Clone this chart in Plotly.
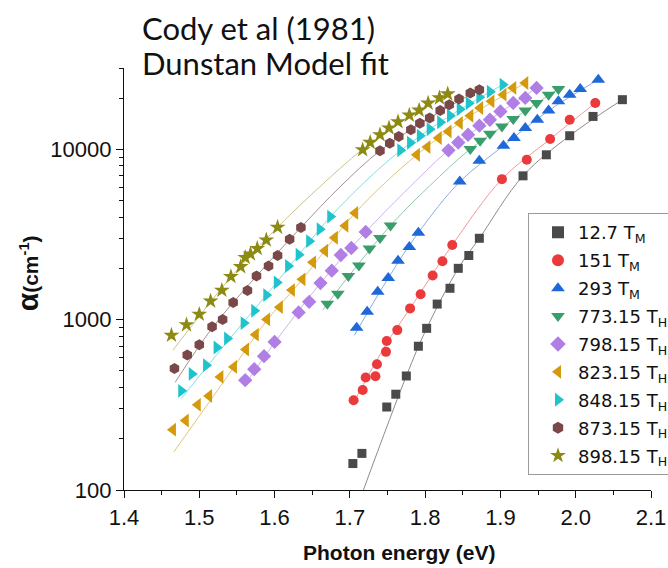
import plotly.graph_objects as go

# ---------------- data ----------------
labels = ["12.7 T<sub>M</sub>", "151 T<sub>M</sub>", "293 T<sub>M</sub>",
          "773.15 T<sub>H</sub>", "798.15 T<sub>H</sub>", "823.15 T<sub>H</sub>",
          "848.15 T<sub>H</sub>", "873.15 T<sub>H</sub>", "898.15 T<sub>H</sub>"]

e_127 = [1.704, 1.716, 1.749, 1.761, 1.775, 1.791, 1.802, 1.816, 1.833, 1.844, 1.858, 1.872,
         1.930, 1.961, 1.992, 2.023, 2.062]
a_127 = [143, 164, 307, 365, 467, 698, 889, 1234, 1528, 2001, 2379, 3003,
         6984, 9281, 12010, 15590, 19550]

e_151 = [1.705, 1.717, 1.721, 1.734, 1.736, 1.748, 1.749, 1.763, 1.780, 1.794, 1.810, 1.823,
         1.836, 1.902, 1.935, 1.966, 1.992, 2.026]
a_151 = [336, 386, 457, 465, 547, 647, 750, 868, 1164, 1408, 1815, 2203,
         2743, 6678, 8677, 11480, 14910, 18700]

e_293 = [1.709, 1.723, 1.737, 1.751, 1.764, 1.779, 1.791, 1.846, 1.872, 1.904, 1.918, 1.933,
         1.949, 1.964, 1.977, 1.992, 2.006, 2.030]
a_293 = [897, 1114, 1457, 1754, 2218, 2670, 3240, 6466, 8556, 10490, 11640, 13330,
         14910, 16910, 19110, 20920, 22610, 25630]

e_773 = [1.670, 1.684, 1.698, 1.712, 1.726, 1.740, 1.754, 1.860, 1.873, 1.886, 1.902, 1.917,
         1.933, 1.948, 1.964, 1.977]
a_773 = [1239, 1418, 1803, 2078, 2616, 3016, 3572, 10030, 11220, 12340, 13620, 15050,
         16910, 18700, 20920, 22610]

e_798 = [1.561, 1.573, 1.586, 1.600, 1.632, 1.646, 1.661, 1.676, 1.688, 1.702, 1.721,
         1.831, 1.844, 1.857, 1.872, 1.886, 1.900, 1.917, 1.933, 1.948]
a_798 = [441, 512, 610, 740, 1103, 1273, 1640, 1937, 2396, 2634, 3271,
         9865, 10960, 12170, 13750, 14910, 16690, 18700, 20010, 22910]

e_823 = [1.465, 1.482, 1.498, 1.513, 1.528, 1.546, 1.562, 1.575, 1.590, 1.607, 1.623, 1.637,
         1.651, 1.667, 1.680, 1.694, 1.707, 1.789, 1.803, 1.818, 1.831, 1.846, 1.860, 1.873,
         1.888, 1.904, 1.917, 1.933]
a_823 = [226, 256, 316, 356, 461, 528, 668, 816, 1003, 1184, 1491, 1724,
         2170, 2536, 3024, 3557, 4231, 9281, 10300, 11640, 12730, 14260, 15740, 17480,
         19110, 20920, 22910, 24510]

e_848 = [1.476, 1.490, 1.509, 1.523, 1.537, 1.559, 1.573, 1.589, 1.603, 1.618, 1.632, 1.646,
         1.660, 1.674, 1.767, 1.780, 1.793, 1.806, 1.820, 1.833, 1.846, 1.858, 1.872, 1.886,
         1.903]
a_848 = [382, 480, 540, 686, 775, 954, 1127, 1394, 1651, 2064, 2406, 2888,
         3398, 4025, 9865, 10920, 12010, 13110, 14410, 15740, 17190, 18650, 20220, 21790,
         23950]

e_873 = [1.467, 1.484, 1.500, 1.517, 1.531, 1.545, 1.564, 1.576, 1.592, 1.604, 1.620, 1.635,
         1.740, 1.753, 1.765, 1.781, 1.793, 1.806, 1.820, 1.832, 1.845, 1.860, 1.872]
a_873 = [516, 621, 713, 907, 1003, 1262, 1485, 1803, 2064, 2379, 2964, 3476,
         9800, 10850, 11890, 13020, 14220, 15260, 16890, 18270, 19740, 21410, 22390]

e_898 = [1.463, 1.483, 1.500, 1.515, 1.530, 1.542, 1.555, 1.561, 1.568, 1.577, 1.589, 1.604,
         1.717, 1.727, 1.740, 1.752, 1.764, 1.779, 1.792, 1.804, 1.819, 1.830]
a_898 = [810, 932, 1075, 1285, 1487, 1790, 2045, 2316, 2428, 2616, 2935, 3486,
         9933, 10965, 12170, 13330, 14510, 15850, 16960, 18650, 20010, 21120]

# Dunstan model fit curves
fit_e_127 = [1.718, 1.775, 1.802, 1.844, 1.872, 1.930, 1.992, 2.062]
fit_a_127 = [100, 467, 889, 2001, 3003, 6984, 12010, 19550]
fit_e_151 = [1.703, 1.749, 1.780, 1.836, 1.902, 1.966, 2.026]
fit_a_151 = [314, 727, 1164, 2743, 6678, 11480, 18700]
fit_e_293 = [1.706, 1.751, 1.791, 1.846, 1.904, 1.964, 2.030]
fit_a_293 = [810, 1754, 3240, 6440, 10490, 16850, 25630]
fit_e_773 = [1.664, 1.698, 1.754, 1.806, 1.860, 1.917, 1.977]
fit_a_773 = [1137, 1790, 3572, 6100, 10030, 15050, 22610]
fit_e_798 = [1.561, 1.600, 1.661, 1.721, 1.773, 1.831, 1.886, 1.948]
fit_a_798 = [418, 732, 1640, 3271, 5623, 9865, 14910, 22910]
fit_e_823 = [1.466, 1.528, 1.590, 1.637, 1.707, 1.789, 1.860, 1.933]
fit_a_823 = [167, 406, 993, 1724, 4231, 9281, 15740, 24510]
fit_e_848 = [1.476, 1.541, 1.589, 1.646, 1.674, 1.720, 1.767, 1.833, 1.903]
fit_a_848 = [344, 778, 1394, 2857, 4008, 6440, 9800, 15740, 23950]
fit_e_873 = [1.468, 1.517, 1.576, 1.635, 1.687, 1.740, 1.806, 1.872]
fit_a_873 = [429, 891, 1803, 3476, 6017, 9800, 15260, 22390]
fit_e_898 = [1.465, 1.500, 1.542, 1.603, 1.660, 1.716, 1.767, 1.830]
fit_a_898 = [662, 1048, 1778, 3453, 6017, 9933, 14510, 21500]

x_tickvals = [1.4, 1.5, 1.6, 1.7, 1.8, 1.9, 2.0, 2.1]
x_ticktext = ["1.4", "1.5", "1.6", "1.7", "1.8", "1.9", "2.0", "2.1"]
y_tickvals = [100, 1000, 10000]
y_ticktext = ["100", "1000", "10000"]
y_minor = [200, 300, 400, 500, 600, 700, 800, 900,
           2000, 3000, 4000, 5000, 6000, 7000, 8000, 9000, 20000, 30000]

# ---------------- styling ----------------
series = [
    (e_127, a_127, fit_e_127, fit_a_127, "square", "#4a4a4a", "#8c8c8c", 9),
    (e_151, a_151, fit_e_151, fit_a_151, "circle", "#ea3a3c", "#f09a9a", 10),
    (e_293, a_293, fit_e_293, fit_a_293, "triangle-up", "#1f68d8", "#8aaee4", 12),
    (e_773, a_773, fit_e_773, fit_a_773, "triangle-down", "#3a9e6c", "#92c9aa", 12),
    (e_798, a_798, fit_e_798, fit_a_798, "diamond", "#b07ee4", "#cdb4e8", 11),
    (e_823, a_823, fit_e_823, fit_a_823, "triangle-left", "#d49a0c", "#e3c575", 12),
    (e_848, a_848, fit_e_848, fit_a_848, "triangle-right", "#1ec3cc", "#86dde2", 12),
    (e_873, a_873, fit_e_873, fit_a_873, "hexagon", "#7a4848", "#a89090", 11),
    (e_898, a_898, fit_e_898, fit_a_898, "star", "#8c8a12", "#cbc58a", 12),
]

fig = go.Figure()
for (ex, ay, fx, fy, sym, col, lcol, sz) in series:
    fig.add_trace(go.Scatter(x=fx, y=fy, mode="lines", line=dict(color=lcol, width=1, shape="spline"),
                             showlegend=False, hoverinfo="skip"))
for i, (ex, ay, fx, fy, sym, col, lcol, sz) in enumerate(series):
    fig.add_trace(go.Scatter(x=ex, y=ay, mode="markers", name=labels[i], legendgroup=f"g{i}",
                             marker=dict(symbol=sym, color=col, size=sz, line=dict(width=0))))

axis_font = dict(family="Liberation Sans, Arial", size=22, color="#111")
fig.update_layout(
    width=668, height=568,
    margin=dict(l=124, r=17, t=68, b=78, autoexpand=False),
    paper_bgcolor="white", plot_bgcolor="white",
    showlegend=True,
    legend=dict(x=0.7666, y=0.656, xanchor="left", yanchor="top",
                bgcolor="white", bordercolor="#9a9a9a", borderwidth=1,
                font=dict(family="DejaVu Sans", size=18, color="#111"),
                tracegroupgap=1.5, itemsizing="constant", indentation=9),
    xaxis=dict(range=[1.4, 2.1], tickvals=x_tickvals, ticktext=x_ticktext,
               showgrid=False, zeroline=False, showline=True, linecolor="#111", linewidth=1.3,
               ticks="outside", ticklen=7, tickwidth=1.3, tickcolor="#111", tickfont=axis_font,
               minor=dict(tickvals=[1.45, 1.55, 1.65, 1.75, 1.85, 1.95, 2.05],
                          ticks="outside", ticklen=4, tickwidth=1.2, tickcolor="#111", showgrid=False)),
    yaxis=dict(type="log", range=[2, 4.4771], tickvals=y_tickvals, ticktext=y_ticktext,
               showgrid=False, zeroline=False, showline=True, linecolor="#111", linewidth=1.3,
               ticks="outside", ticklen=7, tickwidth=1.3, tickcolor="#111", tickfont=axis_font,
               minor=dict(tickvals=y_minor, ticks="outside", ticklen=4, tickwidth=1.2,
                          tickcolor="#111", showgrid=False)),
)

title_font = dict(family="Lato, Open Sans", size=31, color="#111")
fig.add_annotation(text="Cody et al (1981)", xref="paper", yref="paper", x=0.0304, y=1.0949,
                   xanchor="left", yanchor="middle", showarrow=False, font=title_font)
fig.add_annotation(text="Dunstan Model fit", xref="paper", yref="paper", x=0.0304, y=1.0119,
                   xanchor="left", yanchor="middle", showarrow=False, font=title_font)
fig.add_annotation(text="<b>Photon energy (eV)</b>", xref="paper", yref="paper", x=0.5237, y=-0.148,
                   xanchor="center", yanchor="middle", showarrow=False,
                   font=dict(family="Liberation Sans, Arial", size=21, color="#111"))
fig.add_annotation(text="<b><span style='font-size:30px'>α</span>(cm<sup>-1</sup>)</b>",
                   xref="paper", yref="paper", x=-0.184, y=0.5136, textangle=-90,
                   xanchor="center", yanchor="middle", showarrow=False,
                   font=dict(family="Liberation Sans, Arial", size=21, color="#111"))

fig.write_html("out.html")
